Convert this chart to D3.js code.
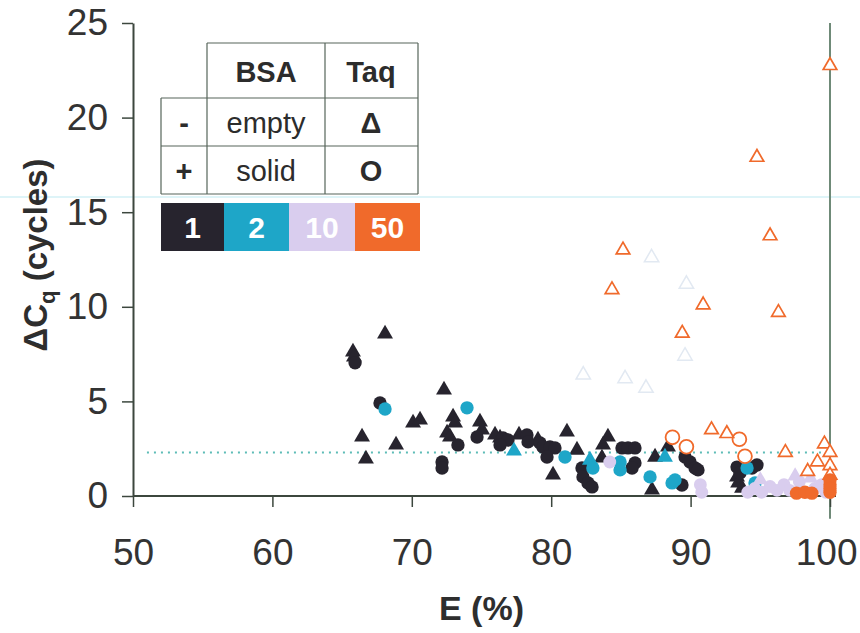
<!DOCTYPE html>
<html>
<head>
<meta charset="utf-8">
<script src="https://cdn.jsdelivr.net/npm/d3@7"></script>
<style>
  body { margin: 0; background: #fff; }
  svg { display: block; }
  text { font-family: "Liberation Sans", Arial, sans-serif; }
</style>
</head>
<body>
<svg id="chart" width="860" height="633"></svg>
<script>
// ---------------- data ----------------
const xTicks = [50, 60, 70, 80, 90, 100];
const yTicks = [0, 5, 10, 15, 20, 25];
const dilutionLabels = ["1", "2", "10", "50"];
const referenceLine = 2.3;

// dilution 1 (black)
const d1SolidTriangles = [
  [65.78, 7.62], [65.85, 7.35], [68.08, 8.57], [66.43, 3.12], [66.71, 1.96], [68.87, 2.70],
  [70.09, 3.86], [70.59, 4.02], [72.31, 5.61], [72.96, 4.18], [73.10, 3.86], [72.53, 3.33],
  [72.74, 3.12], [74.89, 3.92], [75.04, 3.49], [75.97, 3.23], [76.33, 3.07], [77.69, 3.23],
  [79.05, 2.96], [81.13, 3.39], [81.85, 2.43], [80.13, 1.11], [84.07, 3.12], [83.72, 2.70],
  [83.64, 2.01], [87.45, 2.06], [87.23, 0.32], [88.38, 2.59], [93.33, 1.01], [93.41, 0.69],
  [93.69, 0.42]
];
const d1SolidCircles = [
  [65.93, 7.04], [67.72, 4.92], [73.31, 2.70], [72.17, 1.80], [72.17, 1.48], [74.68, 3.12],
  [76.54, 3.07], [76.90, 2.96], [76.33, 2.70], [78.26, 3.23], [78.34, 2.86], [79.20, 2.80],
  [79.41, 2.59], [79.91, 2.59], [80.27, 2.54], [79.70, 2.06], [82.21, 1.48], [82.28, 1.01],
  [82.64, 0.69], [82.93, 0.48], [85.08, 2.54], [85.51, 2.54], [86.01, 2.54], [86.01, 1.75],
  [85.80, 1.48], [89.60, 2.06], [89.96, 1.80], [90.32, 1.48], [90.53, 1.38], [89.38, 0.58],
  [93.33, 1.53], [93.54, 1.22], [94.40, 1.48], [94.76, 1.64]
];
// dilution 2 (cyan)
const d2SolidCircles = [
  [68.08, 4.60], [73.96, 4.66], [80.99, 2.06], [82.99, 1.48], [84.94, 1.80], [84.94, 1.38],
  [87.09, 1.01], [88.67, 0.69], [88.88, 0.85], [94.05, 1.48], [94.62, 0.69]
];
const d2SolidTriangles = [[77.33, 2.38], [82.78, 1.90], [88.16, 2.06]];
// dilution 10 (lavender)
const d10SolidCircles = [
  [84.2, 1.8], [90.7, 0.6], [90.8, 0.2], [94.1, 0.2], [94.6, 0.4], [95.1, 0.2], [95.7, 0.5],
  [96.2, 0.3], [96.7, 0.6], [97.1, 0.3], [97.8, 0.75], [98.9, 0.4], [99.4, 0.6], [99.7, 0.2]
];
const d10SolidTriangles = [[97.5, 1.05], [98.6, 0.95], [95.0, 0.85]];
const d10EmptyTriangles = [[87.2, 12.6], [89.7, 11.2], [89.6, 7.4], [82.3, 6.4], [85.3, 6.2], [86.8, 5.7]];
// dilution 50 (orange)
const d50EmptyTriangles = [
  [100, 22.75], [94.76, 17.9], [95.7, 13.75], [85.15, 13.0], [84.36, 10.9], [90.9, 10.1],
  [96.3, 9.7], [89.4, 8.6], [91.5, 3.5], [92.6, 3.3], [96.8, 2.3], [99.1, 1.8], [98.4, 1.3],
  [99.6, 2.75], [100, 2.3], [100, 1.6], [100, 1.1]
];
const d50EmptyCircles = [[88.7, 3.1], [89.7, 2.6], [93.5, 3.0], [93.9, 2.1]];
const d50SolidCircles = [
  [97.6, 0.15], [98.2, 0.2], [98.7, 0.15], [100, 0.2], [100, 0.6], [100, 0.85], [100, 0.4]
];

// ---------------- styles ----------------
const colors = { "1": "#27242e", "2": "#1ea6c8", "10": "#d9cdee", "50": "#f06a2b" };
const faint = "#e2e9f2";

const svg = d3.select("#chart");
const x = d3.scaleLinear().domain([50, 100]).range([133, 830]);
const y = d3.scaleLinear().domain([0, 25]).range([496, 23]);

// scan artifact line
svg.append("line").attr("x1", 0).attr("x2", 860).attr("y1", 197).attr("y2", 197)
  .attr("stroke", "#d3f1f6").attr("stroke-width", 1.5);

// reference dotted line
svg.append("line")
  .attr("x1", x(51)).attr("x2", x(100))
  .attr("y1", y(referenceLine)).attr("y2", y(referenceLine))
  .attr("stroke", "#5cbcb6").attr("stroke-width", 2).attr("stroke-dasharray", "2,5");

// vertical line at 100
svg.append("line").attr("x1", x(100)).attr("x2", x(100)).attr("y1", y(25)).attr("y2", y(-1.2))
  .attr("stroke", "#6f8a78").attr("stroke-width", 2);

// axes
const axisColor = "#3c473e";
const xAxis = svg.append("g").attr("transform", `translate(0,${y(0)})`)
  .call(d3.axisBottom(x).tickValues(xTicks).tickSize(11).tickPadding(32).tickSizeOuter(0));
const yAxis = svg.append("g").attr("transform", `translate(${x(50)},0)`)
  .call(d3.axisLeft(y).tickValues(yTicks).tickSize(11).tickPadding(14).tickSizeOuter(0));
[xAxis, yAxis].forEach(g => {
  g.select(".domain").attr("stroke", axisColor).attr("stroke-width", 2);
  g.selectAll(".tick line").attr("stroke", axisColor).attr("stroke-width", 1.5);
  g.selectAll(".tick text").attr("fill", "#333").attr("font-size", 37)
    .attr("font-family", "'Liberation Sans', Arial, sans-serif");
});
xAxis.select(".domain").attr("d", `M${x(50)},0H${x(100) + 6}`);
// keep the last x label inside the picture
xAxis.selectAll(".tick").filter(d => d === 100).select("text")
  .attr("text-anchor", "end").attr("x", 857 - x(100));

// axis titles
svg.append("text").attr("x", x(75)).attr("y", 620).attr("text-anchor", "middle")
  .attr("font-size", 34).attr("font-weight", "bold").attr("fill", "#2e2e2e").text("E (%)");
const yt = svg.append("text").attr("transform", `translate(47,255) rotate(-90)`)
  .attr("text-anchor", "middle").attr("font-size", 33).attr("font-weight", "bold").attr("fill", "#2e2e2e");
yt.append("tspan").text("ΔC");
yt.append("tspan").attr("font-size", 22).attr("dy", 8).text("q");
yt.append("tspan").attr("dy", -8).text(" (cycles)");

// marks
function drawSymbols(data, type, size, fill, stroke, sw) {
  const sym = d3.symbol().type(type).size(size);
  svg.append("g").selectAll("path").data(data).join("path")
    .attr("transform", d => `translate(${x(d[0])},${y(d[1])})`)
    .attr("d", sym)
    .attr("fill", fill).attr("stroke", stroke).attr("stroke-width", sw);
}
drawSymbols(d10EmptyTriangles, d3.symbolTriangle, 90, "none", faint, 1.5);
drawSymbols(d1SolidTriangles, d3.symbolTriangle, 110, colors["1"], "none", 0);
drawSymbols(d1SolidCircles, d3.symbolCircle, 140, colors["1"], "none", 0);
drawSymbols(d2SolidTriangles, d3.symbolTriangle, 110, colors["2"], "none", 0);
drawSymbols(d2SolidCircles, d3.symbolCircle, 140, colors["2"], "none", 0);
drawSymbols(d10SolidCircles, d3.symbolCircle, 130, colors["10"], "none", 0);
drawSymbols(d10SolidTriangles, d3.symbolTriangle, 100, colors["10"], "none", 0);
drawSymbols(d50EmptyCircles, d3.symbolCircle, 150, "#fff", colors["50"], 1.8);
drawSymbols(d50EmptyTriangles, d3.symbolTriangle, 80, "#fff", colors["50"], 1.7);
drawSymbols(d50SolidCircles, d3.symbolCircle, 140, colors["50"], "none", 0);

// ---------------- legend table ----------------
const lg = svg.append("g");
const lineC = "#56655a";
const hl = [[207, 418, 43], [161, 418, 98], [161, 418, 146], [161, 418, 194]];
hl.forEach(([a, b, yy]) => lg.append("line").attr("x1", a).attr("x2", b).attr("y1", yy).attr("y2", yy)
  .attr("stroke", lineC).attr("stroke-width", 1.2));
const vl = [[161, 98, 194], [207, 43, 194], [325, 43, 194], [418, 43, 194]];
vl.forEach(([xx, a, b]) => lg.append("line").attr("x1", xx).attr("x2", xx).attr("y1", a).attr("y2", b)
  .attr("stroke", lineC).attr("stroke-width", 1.2));
const cells = [
  [266, 82, "BSA", true], [371, 82, "Taq", true],
  [184, 133, "-", true], [266, 133, "empty", false], [371, 133, "Δ", true],
  [184, 181, "+", true], [266, 181, "solid", false], [371, 181, "O", true]
];
cells.forEach(([cx, cy, t, b]) => lg.append("text").attr("x", cx).attr("y", cy)
  .attr("text-anchor", "middle").attr("font-size", 29).attr("font-weight", b ? "bold" : "normal")
  .attr("fill", "#2c2c2c").text(t));
const barX = [161, 224, 289, 355, 420];
dilutionLabels.forEach((lab, i) => {
  lg.append("rect").attr("x", barX[i]).attr("y", 203).attr("width", barX[i + 1] - barX[i]).attr("height", 48)
    .attr("fill", colors[lab]);
  lg.append("text").attr("x", (barX[i] + barX[i + 1]) / 2).attr("y", 238).attr("text-anchor", "middle")
    .attr("font-size", 30).attr("font-weight", "bold").attr("fill", "#fff").text(lab);
});
</script>
</body>
</html>
